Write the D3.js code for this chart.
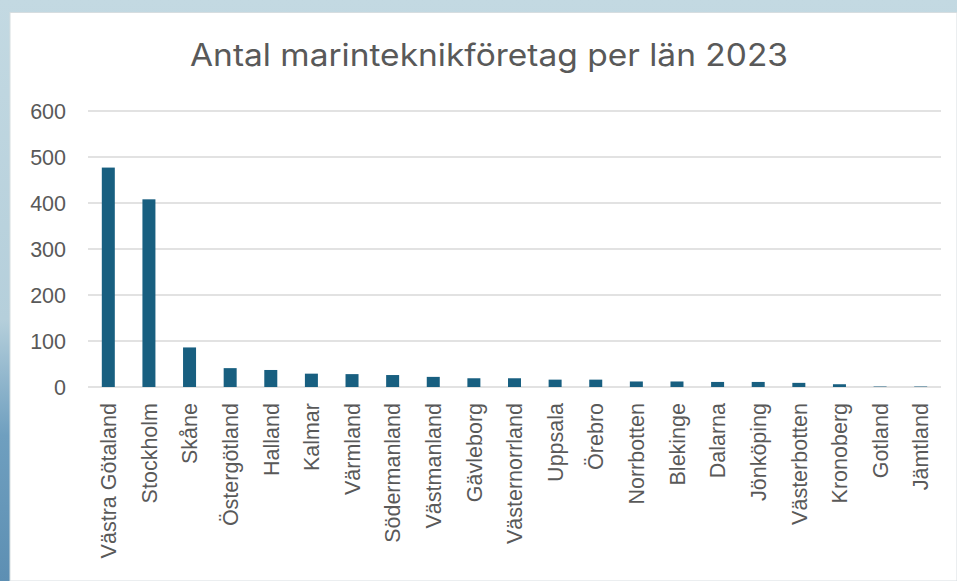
<!DOCTYPE html>
<html>
<head>
<meta charset="utf-8">
<script src="https://cdn.jsdelivr.net/npm/d3@7"></script>
<style>
  html, body { margin: 0; padding: 0; background: #fff; }
  svg { display: block; }
</style>
</head>
<body>
<script>
const titleText = "Antal marinteknikföretag per län 2023";
const categories = ["Västra Götaland","Stockholm","Skåne","Östergötland","Halland","Kalmar","Värmland","Södermanland","Västmanland","Gävleborg","Västernorrland","Uppsala","Örebro","Norrbotten","Blekinge","Dalarna","Jönköping","Västerbotten","Kronoberg","Gotland","Jämtland"];
const values = [477,408,86,41,37,29,28,26,22,19,19,16,16,12,12,11,11,9,6,1,1];
const yTicks = [0,100,200,300,400,500,600];

const W = 957, H = 581;
const svg = d3.select("body").append("svg").attr("width", W).attr("height", H);

// background
const defs = svg.append("defs");
const g1 = defs.append("linearGradient").attr("id","bg").attr("x1",0).attr("y1",0).attr("x2",0).attr("y2",1);
g1.append("stop").attr("offset","0").attr("stop-color","#c3d9e2");
g1.append("stop").attr("offset","0.55").attr("stop-color","#b5cfdb");
g1.append("stop").attr("offset","0.75").attr("stop-color","#6f9fbf");
g1.append("stop").attr("offset","1").attr("stop-color","#5d8fb3");
svg.append("rect").attr("width",W).attr("height",H).attr("fill","url(#bg)");
svg.append("rect").attr("x",10).attr("y",12.5).attr("width",W-10).attr("height",H-12.5)
  .attr("fill","#fff").attr("stroke","#d6dde0").attr("stroke-width",1);

const x0 = 88, x1 = 941, yTop = 111, yBot = 387;
const x = d3.scaleBand().domain(categories).range([x0, x1]).paddingInner(0.68).paddingOuter(0.34);
const y = d3.scaleLinear().domain([0, 600]).range([yBot, yTop]);

// gridlines
svg.append("g").selectAll("line").data(yTicks).join("line")
  .attr("x1", x0).attr("x2", x1)
  .attr("y1", d => y(d)).attr("y2", d => y(d))
  .attr("stroke", "#d9d9d9").attr("stroke-width", 1.5);

// y axis labels
const yAxis = d3.axisLeft(y).tickValues(yTicks).tickSize(0).tickPadding(0).tickFormat(d3.format("d"));
const ya = svg.append("g").attr("transform", "translate(66,0)").call(yAxis);
ya.select(".domain").remove();
ya.selectAll("text").attr("font-family","'Liberation Sans', Arial, sans-serif")
  .attr("font-size", 21.5).attr("fill", "#595959").attr("dy","0.35em");

// bars
svg.append("g").selectAll("rect").data(values).join("rect")
  .attr("x", (d,i) => x(categories[i]))
  .attr("width", x.bandwidth())
  .attr("y", d => y(d))
  .attr("height", d => yBot - y(d))
  .attr("fill", "#185f80");

// x axis labels
const xAxis = d3.axisBottom(x).tickSize(0).tickPadding(0);
const xa = svg.append("g").attr("transform", `translate(0,${yBot})`).call(xAxis);
xa.select(".domain").remove();
xa.selectAll("text")
  .attr("font-family","'Liberation Sans', Arial, sans-serif")
  .attr("font-size", 21.5).attr("fill", "#595959")
  .attr("text-anchor","end")
  .attr("transform","rotate(-90)")
  .attr("x", -16).attr("y", 0).attr("dy","0.36em");

// title
const t = svg.append("text").attr("x", 489).attr("y", 66).attr("text-anchor","middle")
  .attr("font-family","Inter, 'Open Sans', sans-serif").attr("font-size", 31)
  .attr("fill","#595959").text(titleText);
const len = t.node().getComputedTextLength();
if (Math.abs(len - 598) > 4) t.attr("textLength", 598).attr("lengthAdjust","spacingAndGlyphs");
</script>
</body>
</html>
